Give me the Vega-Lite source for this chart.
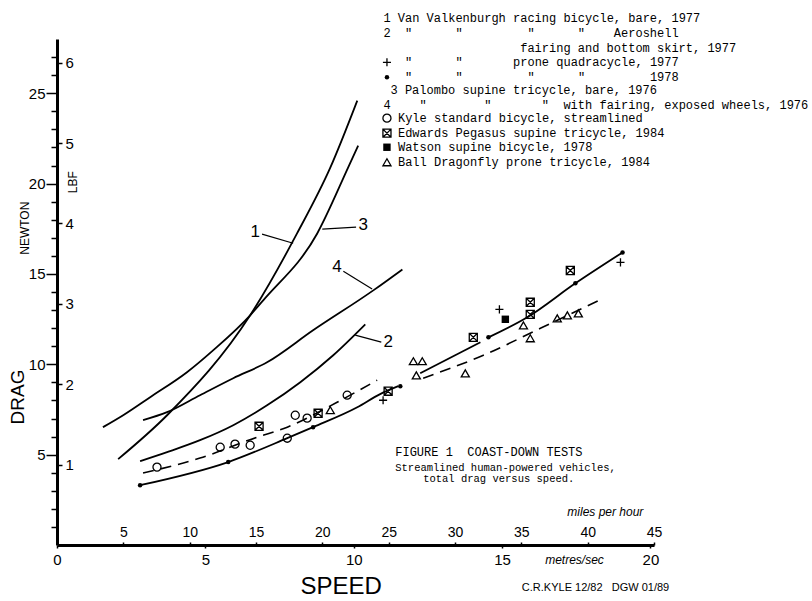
{
  "$schema": "https://vega.github.io/schema/vega-lite/v6.json",
  "width": 597,
  "height": 506,
  "autosize": {"type": "none"},
  "padding": {"left": 57, "top": 39, "right": 158, "bottom": 56},
  "background": "white",
  "config": {
    "view": {"stroke": null},
    "axis": {"labelColor": "black", "tickColor": "black", "domainColor": "black", "grid": false, "labelFont": "Liberation Sans", "labelFlush": false, "labelOverlap": false}
  },
  "datasets": {
    "curves": [
      {"series": "c1", "speed": 2.06, "drag": 4.75}, {"series": "c1", "speed": 3.71, "drag": 7.18}, {"series": "c1", "speed": 6.51, "drag": 12.71}, {"series": "c1", "speed": 8.09, "drag": 17.24}, {"series": "c1", "speed": 9.21, "drag": 20.88}, {"series": "c1", "speed": 10.12, "drag": 24.59},
      {"series": "c3", "speed": 1.55, "drag": 6.52}, {"series": "c3", "speed": 2.23, "drag": 7.18}, {"series": "c3", "speed": 3.14, "drag": 8.18}, {"series": "c3", "speed": 4.38, "drag": 9.56}, {"series": "c3", "speed": 5.26, "drag": 10.77}, {"series": "c3", "speed": 6.51, "drag": 12.71}, {"series": "c3", "speed": 6.95, "drag": 13.54}, {"series": "c3", "speed": 8.77, "drag": 17.24}, {"series": "c3", "speed": 9.81, "drag": 20.88}, {"series": "c3", "speed": 10.15, "drag": 22.1},
      {"series": "c4", "speed": 2.9, "drag": 6.91}, {"series": "c4", "speed": 3.71, "drag": 7.35}, {"series": "c4", "speed": 4.82, "drag": 8.29}, {"series": "c4", "speed": 5.94, "drag": 9.23}, {"series": "c4", "speed": 7.08, "drag": 10.11}, {"series": "c4", "speed": 8.63, "drag": 11.88}, {"series": "c4", "speed": 10.66, "drag": 14.09}, {"series": "c4", "speed": 11.64, "drag": 15.25},
      {"series": "c2", "speed": 2.8, "drag": 4.64}, {"series": "c2", "speed": 3.71, "drag": 5.14}, {"series": "c2", "speed": 4.82, "drag": 5.8}, {"series": "c2", "speed": 5.94, "drag": 6.63}, {"series": "c2", "speed": 7.08, "drag": 7.73}, {"series": "c2", "speed": 8.2, "drag": 9.01}, {"series": "c2", "speed": 9.31, "drag": 10.5}, {"series": "c2", "speed": 10.39, "drag": 12.21},
      {"series": "fitA", "speed": 2.8, "drag": 3.31}, {"series": "fitA", "speed": 5.77, "drag": 4.59}, {"series": "fitA", "speed": 7.76, "drag": 5.91}, {"series": "fitA", "speed": 8.63, "drag": 6.52}, {"series": "fitA", "speed": 10.12, "drag": 7.62}, {"series": "fitA", "speed": 10.89, "drag": 8.35}, {"series": "fitA", "speed": 11.5, "drag": 8.79},
      {"series": "fitB", "speed": 2.9, "drag": 3.98}, {"series": "fitB", "speed": 4.82, "drag": 4.81}, {"series": "fitB", "speed": 6.75, "drag": 5.97}, {"series": "fitB", "speed": 7.76, "drag": 6.52}, {"series": "fitB", "speed": 9.44, "drag": 7.9}, {"series": "fitB", "speed": 10.79, "drag": 9.12},
      {"series": "fitC1", "speed": 12.24, "drag": 9.5}, {"series": "fitC1", "speed": 14.27, "drag": 11.22},
      {"series": "fitC2", "speed": 14.54, "drag": 11.49}, {"series": "fitC2", "speed": 15.85, "drag": 12.6}, {"series": "fitC2", "speed": 17.47, "drag": 14.48}, {"series": "fitC2", "speed": 19.06, "drag": 16.19},
      {"series": "fitD", "speed": 12.34, "drag": 9.23}, {"series": "fitD", "speed": 14.37, "drag": 10.5}, {"series": "fitD", "speed": 16.29, "drag": 11.99}, {"series": "fitD", "speed": 18.41, "drag": 13.65}
    ],
    "points": [
      {"vehicle": "quad1977", "speed": 10.99, "drag": 8.01}, {"vehicle": "quad1977", "speed": 14.91, "drag": 13.04}, {"vehicle": "quad1977", "speed": 18.99, "drag": 15.64},
      {"vehicle": "quad1978", "speed": 2.8, "drag": 3.31}, {"vehicle": "quad1978", "speed": 5.77, "drag": 4.59}, {"vehicle": "quad1978", "speed": 8.63, "drag": 6.52}, {"vehicle": "quad1978", "speed": 11.57, "drag": 8.78}, {"vehicle": "quad1978", "speed": 14.54, "drag": 11.49}, {"vehicle": "quad1978", "speed": 17.47, "drag": 14.48}, {"vehicle": "quad1978", "speed": 19.06, "drag": 16.19},
      {"vehicle": "kyle", "speed": 3.37, "drag": 4.31}, {"vehicle": "kyle", "speed": 5.5, "drag": 5.41}, {"vehicle": "kyle", "speed": 6.0, "drag": 5.58}, {"vehicle": "kyle", "speed": 6.51, "drag": 5.52}, {"vehicle": "kyle", "speed": 7.76, "drag": 5.91}, {"vehicle": "kyle", "speed": 8.03, "drag": 7.18}, {"vehicle": "kyle", "speed": 8.43, "drag": 7.02}, {"vehicle": "kyle", "speed": 9.78, "drag": 8.29},
      {"vehicle": "edwards", "speed": 6.81, "drag": 6.57}, {"vehicle": "edwards", "speed": 8.8, "drag": 7.29}, {"vehicle": "edwards", "speed": 11.16, "drag": 8.51}, {"vehicle": "edwards", "speed": 14.03, "drag": 11.49}, {"vehicle": "edwards", "speed": 15.95, "drag": 13.43}, {"vehicle": "edwards", "speed": 15.95, "drag": 12.76}, {"vehicle": "edwards", "speed": 17.3, "drag": 15.19},
      {"vehicle": "watson", "speed": 15.11, "drag": 12.49},
      {"vehicle": "ball", "speed": 9.21, "drag": 7.46}, {"vehicle": "ball", "speed": 12.01, "drag": 10.17}, {"vehicle": "ball", "speed": 12.31, "drag": 10.17}, {"vehicle": "ball", "speed": 12.11, "drag": 9.39}, {"vehicle": "ball", "speed": 13.76, "drag": 9.5}, {"vehicle": "ball", "speed": 15.72, "drag": 12.15}, {"vehicle": "ball", "speed": 15.95, "drag": 11.44}, {"vehicle": "ball", "speed": 16.86, "drag": 12.54}, {"vehicle": "ball", "speed": 17.2, "drag": 12.71}, {"vehicle": "ball", "speed": 17.57, "drag": 12.82}
    ],
    "legendsym": [
      {"vehicle": "quad1977", "speed": 11.12, "drag": 26.71},
      {"vehicle": "quad1978", "speed": 11.12, "drag": 25.88},
      {"vehicle": "kyle", "speed": 11.12, "drag": 23.62},
      {"vehicle": "edwards", "speed": 11.12, "drag": 22.79},
      {"vehicle": "watson", "speed": 11.12, "drag": 22.01},
      {"vehicle": "ball", "speed": 11.12, "drag": 21.18}
    ],
    "arrows": [
      {"label": "1", "speed": 6.91, "drag": 17.2, "speed2": 7.96, "drag2": 16.7},
      {"label": "3", "speed": 10.08, "drag": 17.59, "speed2": 8.94, "drag2": 17.48},
      {"label": "4", "speed": 9.65, "drag": 15.15, "speed2": 10.62, "drag2": 14.16},
      {"label": "2", "speed": 10.93, "drag": 11.23, "speed2": 10.05, "drag2": 11.61}
    ],
    "notes": [
      {"group": "num", "text": "1", "speed": 6.68, "drag": 17.31},
      {"group": "num", "text": "3", "speed": 10.32, "drag": 17.7},
      {"group": "num", "text": "4", "speed": 9.44, "drag": 15.38},
      {"group": "num", "text": "2", "speed": 11.16, "drag": 11.23},
      {"group": "legend", "text": "1 Van Valkenburgh racing bicycle, bare, 1977", "speed": 11.0, "drag": 29.15},
      {"group": "legend", "text": "2\u00a0\u00a0\"\u00a0\u00a0\u00a0\u00a0\u00a0\u00a0\"\u00a0\u00a0\u00a0\u00a0\u00a0\u00a0\u00a0\u00a0\u00a0\"\u00a0\u00a0\u00a0\u00a0\u00a0\u00a0\"\u00a0\u00a0\u00a0\u00a0Aeroshell", "speed": 11.0, "drag": 28.32},
      {"group": "legend", "text": "fairing and bottom skirt, 1977", "speed": 15.61, "drag": 27.49},
      {"group": "legend", "text": "\"\u00a0\u00a0\u00a0\u00a0\u00a0\u00a0\"\u00a0\u00a0\u00a0\u00a0\u00a0\u00a0\u00a0prone quadracycle, 1977", "speed": 11.73, "drag": 26.71},
      {"group": "legend", "text": "\"\u00a0\u00a0\u00a0\u00a0\u00a0\u00a0\"\u00a0\u00a0\u00a0\u00a0\u00a0\u00a0\u00a0\u00a0\u00a0\"\u00a0\u00a0\u00a0\u00a0\u00a0\u00a0\"\u00a0\u00a0\u00a0\u00a0\u00a0\u00a0\u00a0\u00a0\u00a01978", "speed": 11.73, "drag": 25.88},
      {"group": "legend", "text": "3\u00a0Palombo supine tricycle, bare, 1976", "speed": 11.24, "drag": 25.17},
      {"group": "legend", "text": "4\u00a0\u00a0\u00a0\u00a0\"\u00a0\u00a0\u00a0\u00a0\u00a0\u00a0\u00a0\u00a0\"\u00a0\u00a0\u00a0\u00a0\u00a0\u00a0\u00a0\"\u00a0\u00a0with fairing, exposed wheels, 1976", "speed": 11.0, "drag": 24.34},
      {"group": "legend", "text": "Kyle standard bicycle, streamlined", "speed": 11.49, "drag": 23.62},
      {"group": "legend", "text": "Edwards Pegasus supine tricycle, 1984", "speed": 11.49, "drag": 22.79},
      {"group": "legend", "text": "Watson supine bicycle, 1978", "speed": 11.49, "drag": 22.01},
      {"group": "legend", "text": "Ball Dragonfly prone tricycle, 1984", "speed": 11.49, "drag": 21.18},
      {"group": "cap1", "text": "FIGURE 1\u00a0\u00a0COAST-DOWN TESTS", "speed": 11.4, "drag": 5.13},
      {"group": "cap2", "text": "Streamlined human-powered vehicles,", "speed": 11.4, "drag": 4.24},
      {"group": "cap2", "text": "total drag versus speed.", "speed": 12.34, "drag": 3.66},
      {"group": "vbig", "text": "DRAG", "speed": -1.32, "drag": 8.19},
      {"group": "vsmall", "text": "NEWTON", "speed": -1.08, "drag": 17.53},
      {"group": "vsmall", "text": "LBF", "speed": 0.54, "drag": 20.08},
      {"group": "speed", "text": "SPEED", "speed": 9.58, "drag": -2.32},
      {"group": "script", "text": "metres/sec", "speed": 17.44, "drag": -0.83},
      {"group": "script", "text": "miles per hour", "speed": 18.48, "drag": 1.83},
      {"group": "credit", "text": "C.R.KYLE 12/82\u00a0\u00a0\u00a0DGW 01/89", "speed": 18.15, "drag": -2.38}
    ],
    "lbf": [{"lbf": 1}, {"lbf": 2}, {"lbf": 3}, {"lbf": 4}, {"lbf": 5}, {"lbf": 6}],
    "newtonminor": [{"newton": 1}, {"newton": 27}],
    "mph": [{"mph": 5}, {"mph": 10}, {"mph": 15}, {"mph": 20}, {"mph": 25}, {"mph": 30}, {"mph": 35}, {"mph": 40}, {"mph": 45}]
  },
  "layer": [
    {
      "layer": [
        {
          "data": {"name": "curves"},
          "transform": [{"filter": {"field": "series", "oneOf": ["c1", "c2", "c3", "c4", "fitA", "fitC1", "fitC2"]}}],
          "mark": {"type": "line", "color": "black", "strokeWidth": 1.8, "interpolate": "monotone"},
          "encoding": {
            "x": {"field": "speed", "type": "quantitative", "title": null, "scale": {"domain": [0, 20.12], "nice": false, "zero": false},
              "axis": {"orient": "bottom", "values": [0, 5, 10, 15, 20], "domainWidth": 3, "tickSize": 3, "tickWidth": 1.5, "labelFontSize": 15, "labelPadding": 4, "labelOverlap": false}},
            "y": {"field": "drag", "type": "quantitative", "title": null, "scale": {"domain": [0, 28], "nice": false, "zero": false},
              "axis": {"orient": "left", "values": [5, 10, 15, 20, 25], "labelOverlap": false, "tickSize": 11,
                "domainWidth": 3, "tickWidth": 1.5, "labelFontSize": 15, "labelPadding": 1}},
            "detail": {"field": "series"}
          }
        },
        {
          "data": {"name": "curves"},
          "transform": [{"filter": {"field": "series", "oneOf": ["fitB", "fitD"]}}],
          "mark": {"type": "line", "color": "black", "strokeWidth": 1.6, "strokeDash": [11, 7], "interpolate": "monotone"},
          "encoding": {
            "x": {"field": "speed", "type": "quantitative", "title": null},
            "y": {"field": "drag", "type": "quantitative", "title": null},
            "detail": {"field": "series"}
          }
        },
        {
          "data": {"name": "arrows"},
          "mark": {"type": "rule", "color": "black", "strokeWidth": 1.2},
          "encoding": {
            "x": {"field": "speed", "type": "quantitative", "title": null},
            "y": {"field": "drag", "type": "quantitative", "title": null},
            "x2": {"field": "speed2"},
            "y2": {"field": "drag2"}
          }
        },
        {
          "data": {"name": "points"},
          "transform": [{"filter": {"field": "vehicle", "oneOf": ["quad1977", "kyle", "edwards", "ball"]}}],
          "mark": {"type": "point", "filled": false, "color": "black", "strokeWidth": 1.3, "opacity": 1, "size": 65},
          "encoding": {
            "x": {"field": "speed", "type": "quantitative", "title": null},
            "y": {"field": "drag", "type": "quantitative", "title": null},
            "shape": {"field": "vehicle", "type": "nominal", "legend": null,
              "scale": {"domain": ["quad1977", "kyle", "edwards", "ball"], "range": ["M-1,0H1M0,-1V1", "circle", "M-1,-1H1V1H-1ZM-1,-1L1,1M1,-1L-1,1", "triangle-up"]}}
          }
        },
        {
          "data": {"name": "legendsym"},
          "transform": [{"filter": {"field": "vehicle", "oneOf": ["quad1977", "kyle", "edwards", "ball"]}}],
          "mark": {"type": "point", "filled": false, "color": "black", "strokeWidth": 1.3, "opacity": 1, "size": 65},
          "encoding": {
            "x": {"field": "speed", "type": "quantitative", "title": null},
            "y": {"field": "drag", "type": "quantitative", "title": null},
            "shape": {"field": "vehicle", "type": "nominal", "legend": null}
          }
        },
        {
          "data": {"name": "points"},
          "transform": [{"filter": {"field": "vehicle", "equal": "quad1978"}}],
          "mark": {"type": "point", "filled": true, "color": "black", "opacity": 1, "size": 20, "shape": "circle"},
          "encoding": {
            "x": {"field": "speed", "type": "quantitative", "title": null},
            "y": {"field": "drag", "type": "quantitative", "title": null}
          }
        },
        {
          "data": {"name": "legendsym"},
          "transform": [{"filter": {"field": "vehicle", "equal": "quad1978"}}],
          "mark": {"type": "point", "filled": true, "color": "black", "opacity": 1, "size": 20, "shape": "circle"},
          "encoding": {
            "x": {"field": "speed", "type": "quantitative", "title": null},
            "y": {"field": "drag", "type": "quantitative", "title": null}
          }
        },
        {
          "data": {"name": "points"},
          "transform": [{"filter": {"field": "vehicle", "equal": "watson"}}],
          "mark": {"type": "point", "filled": true, "color": "black", "opacity": 1, "size": 55, "shape": "square"},
          "encoding": {
            "x": {"field": "speed", "type": "quantitative", "title": null},
            "y": {"field": "drag", "type": "quantitative", "title": null}
          }
        },
        {
          "data": {"name": "legendsym"},
          "transform": [{"filter": {"field": "vehicle", "equal": "watson"}}],
          "mark": {"type": "point", "filled": true, "color": "black", "opacity": 1, "size": 55, "shape": "square"},
          "encoding": {
            "x": {"field": "speed", "type": "quantitative", "title": null},
            "y": {"field": "drag", "type": "quantitative", "title": null}
          }
        },
        {
          "data": {"name": "notes"},
          "transform": [{"filter": {"field": "group", "equal": "num"}}],
          "mark": {"type": "text", "font": "Liberation Sans", "fontSize": 17, "color": "black", "align": "center", "baseline": "middle"},
          "encoding": {
            "x": {"field": "speed", "type": "quantitative", "title": null},
            "y": {"field": "drag", "type": "quantitative", "title": null},
            "text": {"field": "text"}
          }
        },
        {
          "data": {"name": "notes"},
          "transform": [{"filter": {"field": "group", "equal": "legend"}}],
          "mark": {"type": "text", "font": "Liberation Mono", "fontSize": 12, "color": "black", "align": "left", "baseline": "middle"},
          "encoding": {
            "x": {"field": "speed", "type": "quantitative", "title": null},
            "y": {"field": "drag", "type": "quantitative", "title": null},
            "text": {"field": "text"}
          }
        },
        {
          "data": {"name": "notes"},
          "transform": [{"filter": {"field": "group", "equal": "cap1"}}],
          "mark": {"type": "text", "font": "Liberation Mono", "fontSize": 12, "color": "black", "align": "left", "baseline": "middle"},
          "encoding": {
            "x": {"field": "speed", "type": "quantitative", "title": null},
            "y": {"field": "drag", "type": "quantitative", "title": null},
            "text": {"field": "text"}
          }
        },
        {
          "data": {"name": "notes"},
          "transform": [{"filter": {"field": "group", "equal": "cap2"}}],
          "mark": {"type": "text", "font": "Liberation Mono", "fontSize": 10.5, "color": "black", "align": "left", "baseline": "middle"},
          "encoding": {
            "x": {"field": "speed", "type": "quantitative", "title": null},
            "y": {"field": "drag", "type": "quantitative", "title": null},
            "text": {"field": "text"}
          }
        },
        {
          "data": {"name": "notes"},
          "transform": [{"filter": {"field": "group", "equal": "vbig"}}],
          "mark": {"type": "text", "font": "Liberation Sans", "fontSize": 19, "color": "black", "align": "center", "baseline": "middle", "angle": 270},
          "encoding": {
            "x": {"field": "speed", "type": "quantitative", "title": null},
            "y": {"field": "drag", "type": "quantitative", "title": null},
            "text": {"field": "text"}
          }
        },
        {
          "data": {"name": "notes"},
          "transform": [{"filter": {"field": "group", "equal": "vsmall"}}],
          "mark": {"type": "text", "font": "Liberation Sans", "fontSize": 12, "color": "black", "align": "center", "baseline": "middle", "angle": 270},
          "encoding": {
            "x": {"field": "speed", "type": "quantitative", "title": null},
            "y": {"field": "drag", "type": "quantitative", "title": null},
            "text": {"field": "text"}
          }
        },
        {
          "data": {"name": "notes"},
          "transform": [{"filter": {"field": "group", "equal": "speed"}}],
          "mark": {"type": "text", "font": "Liberation Sans", "fontSize": 24, "color": "black", "align": "center", "baseline": "middle"},
          "encoding": {
            "x": {"field": "speed", "type": "quantitative", "title": null},
            "y": {"field": "drag", "type": "quantitative", "title": null},
            "text": {"field": "text"}
          }
        },
        {
          "data": {"name": "notes"},
          "transform": [{"filter": {"field": "group", "equal": "script"}}],
          "mark": {"type": "text", "font": "Liberation Sans", "fontSize": 12, "fontStyle": "italic", "color": "black", "align": "center", "baseline": "middle"},
          "encoding": {
            "x": {"field": "speed", "type": "quantitative", "title": null},
            "y": {"field": "drag", "type": "quantitative", "title": null},
            "text": {"field": "text"}
          }
        },
        {
          "data": {"name": "notes"},
          "transform": [{"filter": {"field": "group", "equal": "credit"}}],
          "mark": {"type": "text", "font": "Liberation Sans", "fontSize": 11, "color": "black", "align": "center", "baseline": "middle"},
          "encoding": {
            "x": {"field": "speed", "type": "quantitative", "title": null},
            "y": {"field": "drag", "type": "quantitative", "title": null},
            "text": {"field": "text"}
          }
        }
      ]
    },
    {
      "data": {"name": "newtonminor"},
      "mark": {"type": "point", "opacity": 0},
      "encoding": {
        "y": {"field": "newton", "type": "quantitative", "title": null, "scale": {"domain": [0, 28], "nice": false, "zero": false},
          "axis": {"orient": "left", "values": [1, 2, 3, 4, 6, 7, 8, 9, 11, 12, 13, 14, 16, 17, 18, 19, 21, 22, 23, 24, 26, 27], "labels": false, "domain": false, "tickSize": 6, "tickWidth": 1.5}}
      }
    },
    {
      "data": {"name": "lbf"},
      "mark": {"type": "point", "opacity": 0},
      "encoding": {
        "y": {"field": "lbf", "type": "quantitative", "title": null, "scale": {"domain": [0, 6.2947], "nice": false, "zero": false},
          "axis": {"orient": "right", "offset": -597, "values": [1, 2, 3, 4, 5, 6], "domain": false, "tickSize": 5, "tickWidth": 1.5, "labelFontSize": 15, "labelPadding": 3, "labelOverlap": false}}
      }
    },
    {
      "data": {"name": "mph"},
      "mark": {"type": "point", "opacity": 0},
      "encoding": {
        "x": {"field": "mph", "type": "quantitative", "title": null, "scale": {"domain": [0, 45], "nice": false, "zero": false},
          "axis": {"orient": "top", "offset": -506, "values": [5, 10, 15, 20, 25, 30, 35, 40, 45], "domain": false, "tickSize": 3, "tickWidth": 1.5, "labelFontSize": 14, "labelPadding": 3, "labelOverlap": false}}
      }
    }
  ],
  "resolve": {"scale": {"x": "independent", "y": "independent"}}
}
